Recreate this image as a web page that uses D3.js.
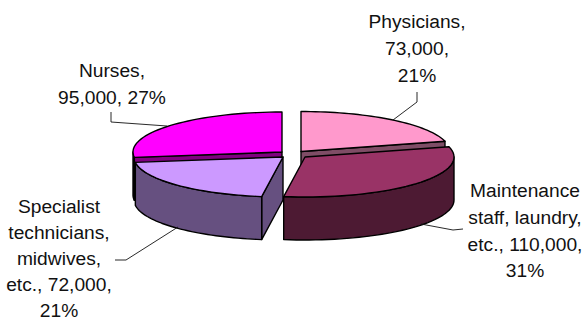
<!DOCTYPE html>
<html><head><meta charset="utf-8">
<script src="https://cdn.jsdelivr.net/npm/d3@7/dist/d3.min.js"></script>
<style>html,body{margin:0;padding:0;background:#fff}svg{display:block}text{font-family:"Liberation Sans",Arial,sans-serif;font-size:19.2px;fill:#111}</style>
</head><body><svg id="c" width="587" height="322"></svg>
<script>
const categories = ["Physicians","Maintenance staff, laundry, etc.","Specialist technicians, midwives, etc.","Nurses"];
const values = [73000,110000,72000,95000];
const topColors = ["#ff99cc","#993366","#cc99ff","#ff00ff"];
const sideColors = ["#7f4d66","#4d1a33","#665080","#800080"];
const outerColors = ["#7f4d66","#4d1a33","#665080","#2f0a2f"];
const labelLines = [
  ["Physicians,","73,000,","21%"],
  ["Maintenance","staff, laundry,","etc., 110,000,","31%"],
  ["Specialist","technicians,","midwives,","etc., 72,000,","21%"],
  ["Nurses,","95,000, 27%"]
];
const svg = d3.select("#c");
const rx = 149, ry = 40, depth = 43;
const lineGaps = [27.2,26.8,26.2,26.5];
// exploded apex of each slice
const apex = [[301,151.5],[305,157],[283,157],[282,152]];
const labelAt = [[417,28],[525,197],[59,212.5],[112,77]];
const leaders = [
  [[393,120],[417,102],[417,92]],
  [[421,224],[453,230],[463,229]],
  [[178,227],[126,260],[115,260]],
  [[167,126],[111,122],[111,112]]
];
const arcs = d3.pie().sort(null).value(d=>d)(values);
const line = d3.line();
const pt = (c,a,dz=0)=>[c[0]+rx*Math.sin(a), c[1]-ry*Math.cos(a)+dz];
const samples = (a0,a1)=>d3.range(0,41).map(d3.scaleLinear().domain([0,40]).range([a0,a1]));
const poly = (p,f)=>svg.append("path").attr("d",line(p)+"Z").attr("fill",f)
  .attr("stroke","#000").attr("stroke-width",1.4).attr("stroke-linejoin","round");
const wall = (c,a,f)=>poly([c,pt(c,a),pt(c,a,depth),[c[0],c[1]+depth]],f);

function slice(i){
  const c = apex[i], a0 = arcs[i].startAngle, a1 = arcs[i].endAngle;
  if (a1<Math.PI) wall(c,a1,sideColors[i]);   // end edge faces the viewer
  if (a0>Math.PI) wall(c,a0,sideColors[i]);   // start edge faces the viewer
  const w0 = Math.max(a0,Math.PI/2), w1 = Math.min(a1,3*Math.PI/2);
  if (w1>w0){
    const s = samples(w0,w1);
    poly(s.map(a=>pt(c,a)).concat(s.slice().reverse().map(a=>pt(c,a,depth))),outerColors[i]);
  }
  poly([c].concat(samples(a0,a1).map(a=>pt(c,a))),topColors[i]);
}
[3,0,2,1].forEach(slice);

leaders.forEach(l=>svg.append("path").attr("d",line(l)).attr("fill","none").attr("stroke","#111").attr("stroke-width",0.9));
labelLines.forEach((ls,i)=>{
  const t = svg.append("text").attr("text-anchor","middle");
  ls.forEach((s,j)=>t.append("tspan").attr("x",labelAt[i][0]).attr("y",labelAt[i][1]+j*lineGaps[i]).text(s));
});
</script></body></html>
